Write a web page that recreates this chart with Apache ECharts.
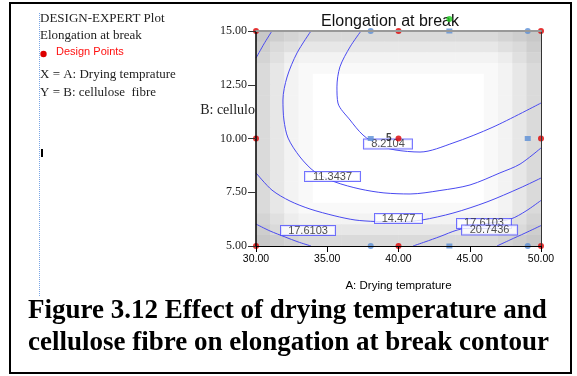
<!DOCTYPE html>
<html>
<head>
<meta charset="utf-8">
<script src="https://cdn.jsdelivr.net/npm/echarts@6/dist/echarts.min.js"></script>
<style>html,body{margin:0;padding:0;background:#fff;}#c{width:577px;height:376px;}</style>
</head>
<body>
<div id="c"></div>
<script>
// ---- data ----
const xRange = [30, 50];
const yRange = [5, 15];
const contour8 = [[37.37,15.00],[36.60,14.26],[35.89,13.33],[35.68,12.40],[35.75,11.65],[36.60,10.86],[37.51,10.16],[38.56,9.70],[39.75,9.47],[41.51,9.37],[43.82,9.79],[46.63,10.53],[50.00,11.65]];
const contour11 = [[33.86,15.00],[32.88,13.98],[32.18,12.86],[31.89,11.79],[31.96,10.86],[32.25,10.02],[33.09,9.14],[34.14,8.44],[35.54,7.98],[37.30,7.65],[38.98,7.47],[40.81,7.42],[42.91,7.58],[45.02,7.84],[47.12,8.40],[48.53,8.81],[50.00,9.56]];
const contour14 = [[30.00,8.40],[31.12,7.60],[32.39,7.09],[33.79,6.72],[35.54,6.40],[36.95,6.21],[38.35,6.14],[40.11,6.12],[41.65,6.21],[43.82,6.53],[46.21,7.05],[48.53,7.70],[50.00,8.16]];
const contour14TopLeft = [[31.12,15.00],[30.56,14.40],[30.00,13.74]];
const contour17Left = [[30.00,6.02],[30.98,5.70],[32.04,5.42],[32.95,5.19],[33.86,5.00]];
const contour17Right = [[41.02,5.00],[41.86,5.19],[42.91,5.44],[44.11,5.74],[46.00,6.02],[47.89,6.26],[48.95,6.63],[50.00,7.12]];
const contour20 = [[46.91,5.00],[47.82,5.28],[48.88,5.60],[50.00,5.95]];
const labelText = ['8.2104','11.3437','14.477','17.6103','17.6103','20.7436'];
const labelX = [39.26, 35.37, 40.00, 33.65, 46.00, 46.39];
const labelY = [9.74, 8.23, 6.28, 5.72, 6.05, 5.74];
const redPoints = [[30,15],[40,15],[50,15],[30,10],[40,10],[50,10],[30,5],[40,5],[50,5]];
const blueCircles = [[38.05,15],[49.07,15],[38.05,5],[49.07,5]];
const blueSquares = [[43.57,15],[38.05,10],[49.07,10],[43.57,5]];
const greenPoints = [[43.57,15.56]];
const centerReplicates = '5';
// shading (darkness 0..9), rows top to bottom, 20 cells each
const shadeRows = [
"98766666666666666789",
"86544444444444444568",
"75322222222222222357",
"64211111111111111246",
"64210000000000001246",
"64210000000000001246",
"64210000000000001246",
"64210000000000001246",
"64210000000000001246",
"64210000000000001246",
"64210000000000001246",
"64210000000000001246",
"64210000000000001246",
"64210000000000001246",
"64210000000000001246",
"64210000000000001246",
"64211111111111111246",
"75322222222222222357",
"86544444444444444568",
"98766666666666666789"
];
// ---- styles ----
const labelBoxW = [48, 55, 47, 54, 54, 55];
const SERIF = 'Liberation Serif';
const SANS = 'Liberation Sans';
const LINE = '#4a4af0';

const nCols = shadeRows[0].length, nRows = shadeRows.length;
const heat = [];
shadeRows.forEach((row, r) => {
  for (let c = 0; c < row.length; c++) heat.push([c, nRows - 1 - r, +row[c]]);
});
const cats = n => Array.from({length:n}, (_, i) => String(i));

const lineSeries = (d) => ({type:'line', xAxisIndex:0, yAxisIndex:0, data:d, showSymbol:false, smooth:0.3,
  lineStyle:{color:LINE, width:1}, silent:true, z:3});

const chart = echarts.init(document.getElementById('c'), null, {renderer:'canvas'});
chart.setOption({
  animation:false,
  grid:[
    {left:256, top:31, width:285, height:215},
    {left:256, top:31, width:285, height:215}
  ],
  xAxis:[
    {gridIndex:0, type:'value', min:xRange[0], max:xRange[1], interval:5, z:10,
     axisLine:{show:true, lineStyle:{color:'#000', width:1}},
     axisTick:{show:true, length:6, lineStyle:{color:'#000'}},
     axisLabel:{formatter:v=>v.toFixed(2), color:'#000', fontFamily:SANS, fontSize:10.5, margin:8},
     splitLine:{show:false},
     name:'A: Drying temprature', nameLocation:'middle', nameGap:34,
     nameTextStyle:{fontFamily:SANS, fontSize:11.5, color:'#000'}},
    {gridIndex:1, type:'category', data:cats(nCols), position:'top', z:10,
     axisLine:{show:true, lineStyle:{color:'#999', width:2}},
     axisTick:{show:false}, axisLabel:{show:false}, splitLine:{show:false}}
  ],
  yAxis:[
    {gridIndex:0, type:'value', min:yRange[0], max:yRange[1], interval:2.5, z:10,
     axisLine:{show:true, lineStyle:{color:'#000', width:1.5}},
     axisTick:{show:true, length:8, lineStyle:{color:'#333'}},
     axisLabel:{formatter:v=>v.toFixed(2), color:'#222', fontFamily:SERIF, fontSize:12, margin:9},
     splitLine:{show:false}},
    {gridIndex:1, type:'category', data:cats(nRows), position:'right', z:10,
     axisLine:{show:true, lineStyle:{color:'#333', width:1}},
     axisTick:{show:false}, axisLabel:{show:false}, splitLine:{show:false}}
  ],
  visualMap:{show:false, type:'continuous', min:0, max:9, seriesIndex:0,
    inRange:{color:['#ffffff','#c8c8c8']}},
  series:[
    {type:'heatmap', xAxisIndex:1, yAxisIndex:1, data:heat, silent:true, z:1},
    lineSeries(contour8), lineSeries(contour11), lineSeries(contour14), lineSeries(contour14TopLeft),
    lineSeries(contour17Left), lineSeries(contour17Right), lineSeries(contour20),
    {type:'scatter', xAxisIndex:0, yAxisIndex:0, symbolSize:0, silent:true, z:5,
     data:labelText.map((t,i)=>({value:[labelX[i], labelY[i]], name:t,
        label:{width:labelBoxW[i]}})),
     label:{show:true, position:'inside', formatter:p=>p.name, color:'#222', fontFamily:SANS, fontSize:11,
        backgroundColor:'#fff', borderColor:'#4f4fff', borderWidth:1, height:9, lineHeight:9,
        padding:[0,0,0,0], align:'center', verticalAlign:'middle'}},
    {type:'scatter', xAxisIndex:0, yAxisIndex:0, data:blueCircles, symbol:'circle', symbolSize:6, clip:false,
     itemStyle:{color:'#5b8fd6'}, z:6},
    {type:'scatter', xAxisIndex:0, yAxisIndex:0, data:blueSquares, symbol:'rect', symbolSize:[6,5], clip:false,
     itemStyle:{color:'#5b8fd6'}, z:6},
    {type:'scatter', xAxisIndex:0, yAxisIndex:0, clip:false, symbol:'circle', symbolSize:6, z:7,
     itemStyle:{color:'#dd0000'},
     data:redPoints.map(p => (p[0]===40 && p[1]===10)
        ? {value:p, label:{show:true, formatter:centerReplicates, position:'left', distance:4,
            fontWeight:'bold', fontSize:10, fontFamily:SANS, color:'#111'}}
        : {value:p})},
    {type:'scatter', xAxisIndex:0, yAxisIndex:0, data:greenPoints, clip:false, symbol:'circle', symbolSize:6,
     itemStyle:{color:'#22cc22'}, z:8}
  ],
  graphic:[
    {type:'rect', shape:{x:10, y:3, width:561, height:370}, style:{fill:'none', stroke:'#000', lineWidth:2}, z:0, silent:true},
    {type:'line', shape:{x1:39.5, y1:13, x2:39.5, y2:297}, style:{stroke:'#7aa6e6', lineWidth:1, lineDash:[1,1]}, silent:true},
    {type:'rect', shape:{x:41, y:149, width:2, height:8}, style:{fill:'#000'}, silent:true},
    {type:'text', left:40, top:12, style:{text:'DESIGN-EXPERT Plot', font:'13px "Liberation Serif"', fill:'#222'}},
    {type:'text', left:40, top:29, style:{text:'Elongation at break', font:'13px "Liberation Serif"', fill:'#222'}},
    {type:'circle', shape:{cx:43.5, cy:54, r:3.2}, style:{fill:'#dd0000'}},
    {type:'text', left:56, top:46, style:{text:'Design Points', font:'11px "Liberation Sans"', fill:'#ff1010'}},
    {type:'text', left:40, top:68, style:{text:'X = A: Drying temprature', font:'13px "Liberation Serif"', fill:'#222'}},
    {type:'text', left:40, top:86, style:{text:'Y = B: cellulose  fibre', font:'13px "Liberation Serif"', fill:'#222'}},
    {type:'text', x:255, y:110, style:{text:'B: cellulo', font:'14px "Liberation Serif"', fill:'#222', textAlign:'right', textVerticalAlign:'middle'}},
    {type:'text', x:390, y:22, style:{text:'Elongation at break', font:'16px "Liberation Sans"', fill:'#111', textAlign:'center', textVerticalAlign:'middle'}},
    {type:'text', x:28, y:311, style:{text:'Figure 3.12 Effect of drying temperature and', font:'bold 27px "Liberation Serif"', fill:'#000', textVerticalAlign:'middle'}},
    {type:'text', x:28, y:343, style:{text:'cellulose fibre on elongation at break contour', font:'bold 27px "Liberation Serif"', fill:'#000', textVerticalAlign:'middle'}}
  ]
});
</script>
</body>
</html>
